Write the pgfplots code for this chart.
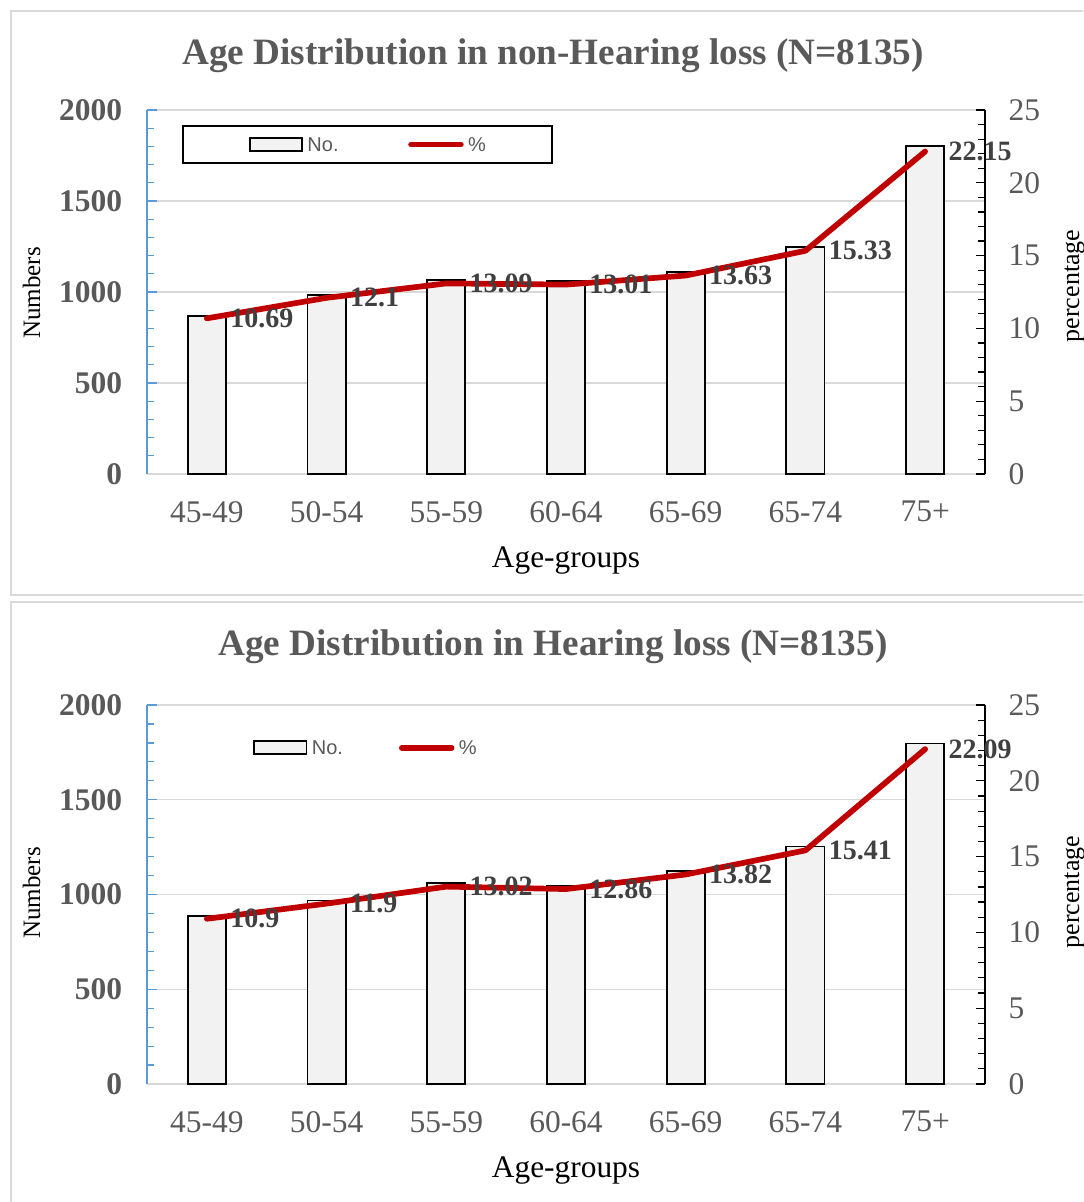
\documentclass[border=0pt]{standalone}
\usepackage{pgfplots}
\pgfplotsset{compat=1.18}
\usepackage{fontspec}
\setmainfont{Liberation Serif}
\newfontfamily\arialfont{Liberation Sans}
\definecolor{txtgray}{HTML}{595959}
\definecolor{lblgray}{HTML}{404040}
\definecolor{gridgray}{HTML}{D9D9D9}
\definecolor{axblue}{HTML}{5B9BD5}
\definecolor{barfill}{HTML}{F2F2F2}
\definecolor{linered}{HTML}{C00000}

\pgfplotsset{
  common/.style={
    scale only axis, width=419pt,
    xmin=-0.5, xmax=6.5,
    /pgf/number format/assume math mode=true,
    /pgf/number format/1000 sep={},
    scaled y ticks=false,
    tick align=inside,
  },
  baraxis/.style={
    common,
    ymin=0, ymax=2000,
    axis x line*=bottom, axis y line*=left,
    x axis line style={draw=gridgray, line width=0.75pt, -},
    y axis line style={draw=axblue, line width=0.6pt, -},
    xtick={0,...,6},
    xticklabels={45-49,50-54,55-59,60-64,65-69,65-74,75+},
    major x tick style={draw=none},
    xticklabel style={font=\fontsize{15.75}{18}\selectfont, text=txtgray, yshift=-5.3pt},
    ytick={0,500,...,2000}, minor y tick num=4,
    every y tick/.style={draw=axblue, line width=0.6pt},
    major tick length=4.8pt, minor tick length=3.4pt,
    yticklabel style={font=\bfseries\fontsize{15.75}{18}\selectfont, text=txtgray, xshift=-8.9pt},
    ymajorgrids, major grid style={draw=gridgray, line width=0.6pt},
    ybar, bar width=19.1pt, bar shift=0pt,
  },
  lineaxis/.style={
    common,
    ymin=0, ymax=25,
    axis x line=none, axis y line*=right,
    y axis line style={draw=black, line width=0.6pt, -},
    ytick={0,5,...,25}, minor y tick num=4,
    every y tick/.style={draw=black, line width=0.6pt},
    major tick length=4.4pt, minor tick length=3.3pt,
    yticklabel style={font=\fontsize{15.75}{18}\selectfont, text=txtgray, xshift=8.3pt},
  },
  barplot/.style={fill=barfill, draw=black, line width=0.9pt},
  lineplot/.style={draw=linered, line width=2.85pt, line cap=round, line join=round, mark=none,
    point meta=explicit symbolic, nodes near coords,
    nodes near coords style={anchor=west, xshift=10.3pt, inner sep=0pt,
      font=\bfseries\fontsize{14}{16}\selectfont, text=lblgray},
    legend image code/.code={\draw[line width=2.85pt, draw=linered, line cap=round] (0pt,0pt) -- (24.9pt,0pt);}},
  barlegend/.style={legend image code/.code={\draw[fill=barfill, draw=black, line width=0.9pt] (0pt,-3.3pt) rectangle (26.2pt,3.3pt);}},
}

\begin{document}
\begin{tikzpicture}
\useasboundingbox (0pt,0pt) rectangle (541.5pt,-601pt);
\begin{scope}
\clip (0pt,0pt) rectangle (541.5pt,-601pt);
% panel borders
\draw[gridgray, line width=1pt] (5.5pt,-5.5pt) rectangle (580pt,-297.5pt);
\draw[gridgray, line width=1pt] (5.5pt,-301pt) rectangle (580pt,-640pt);

% ---------- Panel 1 ----------
\begin{axis}[baraxis, height=182pt, at={(73.5pt,-237pt)}, anchor=south west]
\addplot[barplot] coordinates {(0,869.6) (1,984.3) (2,1064.9) (3,1058.4) (4,1108.8) (5,1247.1) (6,1801.9)};
\end{axis}
\begin{axis}[lineaxis, height=182pt, at={(73.5pt,-237pt)}, anchor=south west,
  legend columns=2,
  legend style={at={(0.0433,0.905)}, anchor=west, draw=black, line width=1pt, fill=white,
    inner xsep=32.8pt, inner ysep=5.7pt, outer sep=0pt,
    font=\arialfont\fontsize{10}{12}\selectfont, text=txtgray,
    nodes={inner sep=0pt, text height=7.2pt, text depth=0pt},
    /tikz/every odd column/.style={column sep=2.2pt},
    /tikz/every even column/.style={column sep=34.8pt}}]
\addlegendimage{barlegend}
\addlegendentry{No.}
\addplot[lineplot] coordinates {(0,10.69) [10.69] (1,12.1) [12.1] (2,13.09) [13.09] (3,13.01) [13.01] (4,13.63) [13.63] (5,15.33) [15.33] (6,22.15) [22.15]};
\addlegendentry{\%}
\end{axis}
\node[anchor=base, text=txtgray, font=\bfseries\fontsize{18.6}{22}\selectfont] at (276.5pt,-32.5pt) {Age Distribution in non-Hearing loss (N=8135)};
\node[anchor=base, rotate=90, font=\fontsize{12.5}{15}\selectfont] at (20pt,-146.5pt) {Numbers};
\node[anchor=base, rotate=90, font=\fontsize{13}{15}\selectfont] at (539.5pt,-143pt) {percentage};
\node[anchor=base, font=\fontsize{15.7}{18}\selectfont] at (283pt,-283.5pt) {Age-groups};

% ---------- Panel 2 ----------
\begin{axis}[baraxis, height=189.5pt, at={(73.5pt,-542pt)}, anchor=south west]
\addplot[barplot] coordinates {(0,886.7) (1,968.1) (2,1059.2) (3,1046.2) (4,1124.3) (5,1253.6) (6,1797.0)};
\end{axis}
\begin{axis}[lineaxis, height=189.5pt, at={(73.5pt,-542pt)}, anchor=south west,
  legend columns=2,
  legend style={at={(0.1268,0.8874)}, anchor=west, draw=none, fill=none,
    inner xsep=0pt, inner ysep=0pt, outer sep=0pt,
    font=\arialfont\fontsize{10}{12}\selectfont, text=txtgray,
    nodes={inner sep=0pt, text height=7.2pt, text depth=0pt},
    /tikz/every odd column/.style={column sep=2.2pt},
    /tikz/every even column/.style={column sep=28pt}}]
\addlegendimage{barlegend}
\addlegendentry{No.}
\addplot[lineplot] coordinates {(0,10.9) [10.9] (1,11.9) [11.9] (2,13.02) [13.02] (3,12.86) [12.86] (4,13.82) [13.82] (5,15.41) [15.41] (6,22.09) [22.09]};
\addlegendentry{\%}
\end{axis}
\node[anchor=base, text=txtgray, font=\bfseries\fontsize{18.6}{22}\selectfont] at (276.5pt,-327.5pt) {Age Distribution in Hearing loss (N=8135)};
\node[anchor=base, rotate=90, font=\fontsize{12.5}{15}\selectfont] at (20pt,-446.5pt) {Numbers};
\node[anchor=base, rotate=90, font=\fontsize{13}{15}\selectfont] at (539.5pt,-446pt) {percentage};
\node[anchor=base, font=\fontsize{15.7}{18}\selectfont] at (283pt,-588.5pt) {Age-groups};
\end{scope}
\end{tikzpicture}
\end{document}
